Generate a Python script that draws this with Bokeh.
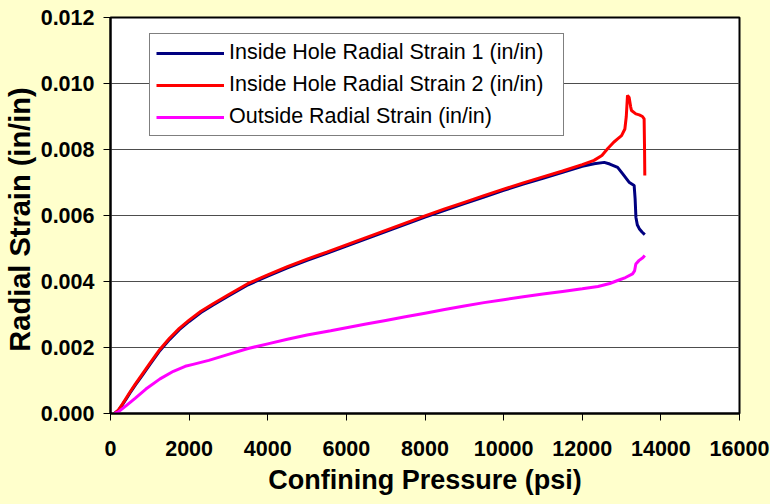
from bokeh.plotting import figure
from bokeh.models import FixedTicker, Legend, LegendItem, PrintfTickFormatter
from bokeh.embed import file_html
from bokeh.resources import INLINE

# ---- data ----
x_ticks = [0, 2000, 4000, 6000, 8000, 10000, 12000, 14000, 16000]
y_ticks = [0.000, 0.002, 0.004, 0.006, 0.008, 0.010, 0.012]

series_names = ["Inside Hole Radial Strain 1 (in/in)",
                "Inside Hole Radial Strain 2 (in/in)",
                "Outside Radial Strain (in/in)"]

# Inside hole radial strain 1 (navy)
p_in1 = [100, 200, 300, 400, 500, 630, 800, 1000, 1260, 1500, 1750, 2000, 2300, 2600,
         3000, 3500, 4000, 4500, 5000, 5500, 6000, 6500, 7000, 7500, 8000, 8500, 9000,
         9500, 10000, 10500, 11000, 11500, 12000, 12300, 12560, 12700, 12900, 13030,
         13190, 13320, 13345, 13365, 13400, 13450, 13520, 13591]
s_in1 = [0.0, 0.00009, 0.00026, 0.00044, 0.00063, 0.00086, 0.00114, 0.00148, 0.00191,
         0.00224, 0.00254, 0.00279, 0.00306, 0.00328, 0.00356, 0.00390, 0.00416, 0.00441,
         0.00464, 0.00485, 0.00507, 0.00529, 0.00551, 0.00573, 0.00595, 0.00616, 0.00636,
         0.00656, 0.00676, 0.00695, 0.00713, 0.00731, 0.00749, 0.00757, 0.00761, 0.00756,
         0.00746, 0.00726, 0.00701, 0.00691, 0.00650, 0.00595, 0.00572, 0.00560, 0.00550,
         0.00542]

# Inside hole radial strain 2 (red)
p_in2 = [100, 200, 300, 400, 500, 630, 800, 1000, 1260, 1500, 1750, 2000, 2300, 2600,
         3000, 3500, 4000, 4500, 5000, 5500, 6000, 6500, 7000, 7500, 8000, 8500, 9000,
         9500, 10000, 10500, 11000, 11500, 12000, 12300, 12500, 12650, 12800, 12900,
         13000, 13084, 13120, 13151, 13193, 13230, 13253, 13363, 13450, 13532, 13574,
         13585, 13591]
s_in2 = [0.0, 0.00010, 0.00028, 0.00047, 0.00066, 0.00089, 0.00118, 0.00152, 0.00195,
         0.00228, 0.00258, 0.00283, 0.00310, 0.00332, 0.00360, 0.00394, 0.00420, 0.00445,
         0.00468, 0.00489, 0.00511, 0.00533, 0.00555, 0.00577, 0.00599, 0.00620, 0.00640,
         0.00660, 0.00680, 0.00699, 0.00717, 0.00735, 0.00754, 0.00767, 0.00782, 0.00803,
         0.00822, 0.00832, 0.00842, 0.00862, 0.00900, 0.00964, 0.00958, 0.00930, 0.00918,
         0.00908, 0.00905, 0.00900, 0.00893, 0.00800, 0.00721]

# Outside radial strain (magenta)
p_out = [100, 200, 400, 625, 900, 1260, 1600, 1900, 2100, 2500, 3000, 3500, 4000, 4500,
         5000, 5600, 6000, 6500, 7000, 7500, 8000, 8500, 9000, 9500, 10000, 10500, 11000,
         11500, 12000, 12400, 12700, 12900, 13100, 13280, 13330, 13363, 13447, 13540, 13591]
s_out = [0.0, 0.00005, 0.00024, 0.00046, 0.00074, 0.00105, 0.00128, 0.00143, 0.00149,
         0.00161, 0.00179, 0.00197, 0.00211, 0.00225, 0.00238, 0.00251, 0.00260, 0.00271,
         0.00282, 0.00293, 0.00304, 0.00315, 0.00326, 0.00336, 0.00345, 0.00354, 0.00362,
         0.00370, 0.00378, 0.00385, 0.00394, 0.00403, 0.00412, 0.00423, 0.00432, 0.00453,
         0.00464, 0.00472, 0.00479]

colors = ["#000080", "#FF0000", "#FF00FF"]

# ---- figure ----
BG = "#FFFFCC"
FONT = "Liberation Sans"

p = figure(width=770, height=504, output_backend="svg", toolbar_location=None,
           x_range=(0, 16000), y_range=(0, 0.012),
           min_border_left=108, min_border_right=31, min_border_top=17, min_border_bottom=91,
           background_fill_color="white", border_fill_color=BG,
           outline_line_color="black", outline_line_width=2)

r1 = p.line(p_in1, s_in1, line_color=colors[0], line_width=3)
r2 = p.line(p_in2, s_in2, line_color=colors[1], line_width=3)
r3 = p.line(p_out, s_out, line_color=colors[2], line_width=3)

# axes
for ax in (p.xaxis[0], p.yaxis[0]):
    ax.axis_line_color = "black"
    ax.axis_line_width = 2
    ax.major_tick_line_color = "black"
    ax.major_tick_line_width = 1
    ax.major_tick_in = 0
    ax.major_tick_out = 7
    ax.minor_tick_line_color = None
    ax.major_label_text_font = FONT
    ax.major_label_text_font_style = "bold"
    ax.major_label_text_font_size = "21.5px"
    ax.major_label_text_color = "black"
    ax.axis_label_text_font = FONT
    ax.axis_label_text_font_style = "bold"
    ax.axis_label_text_color = "black"

p.xaxis.axis_label_text_font_size = "27px"
p.yaxis.axis_label_text_font_size = "29px"
p.xaxis.ticker = FixedTicker(ticks=x_ticks)
p.yaxis.ticker = FixedTicker(ticks=y_ticks)
p.yaxis.formatter = PrintfTickFormatter(format="%.3f")
p.xaxis.formatter = PrintfTickFormatter(format="%d")
p.xaxis.major_label_standoff = 20
p.yaxis.major_label_standoff = 9
p.xaxis.axis_label = "Confining Pressure (psi)"
p.yaxis.axis_label = "Radial Strain  (in/in)"
p.xaxis.axis_label_standoff = 6
p.yaxis.axis_label_standoff = 2

p.xgrid.visible = False
p.ygrid.grid_line_color = "#4d4d4d"
p.ygrid.grid_line_width = 1
p.ygrid.ticker = FixedTicker(ticks=y_ticks)

legend = Legend(items=[LegendItem(label=series_names[0], renderers=[r1]),
                       LegendItem(label=series_names[1], renderers=[r2]),
                       LegendItem(label=series_names[2], renderers=[r3])],
                location=(39, 277))
legend.label_text_font = FONT
legend.label_text_font_size = "21.5px"
legend.label_text_color = "black"
legend.glyph_width = 68
legend.glyph_height = 24
legend.label_height = 24
legend.label_width = 328
legend.label_standoff = 5
legend.spacing = 7
legend.padding = 6
legend.margin = 0
legend.border_line_color = "black"
legend.border_line_width = 1
legend.background_fill_color = "white"
legend.background_fill_alpha = 1
p.add_layout(legend)

html = file_html(p, INLINE)
html = html.replace("</head>", "<style>body{background-color:%s;}</style></head>" % BG, 1)
open("out.html", "w").write(html)
